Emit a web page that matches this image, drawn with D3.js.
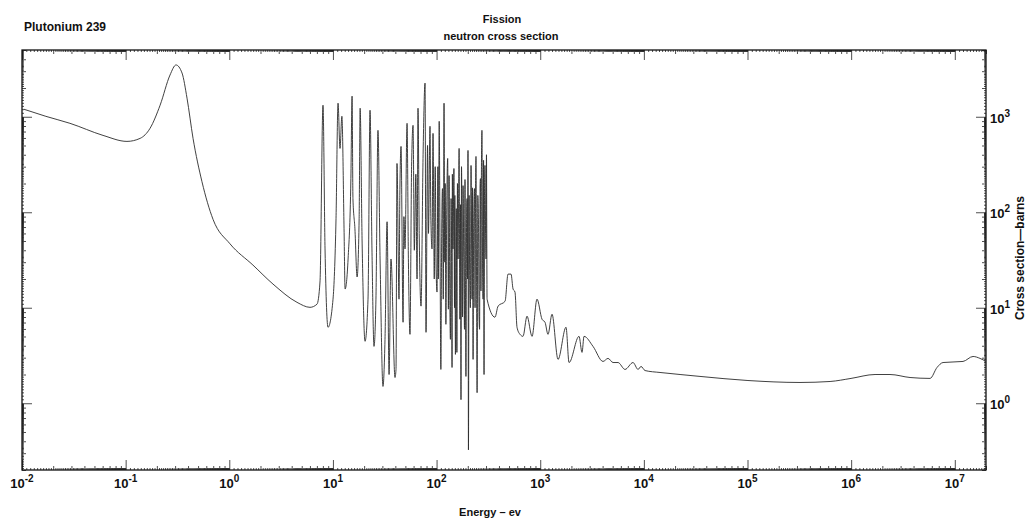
<!DOCTYPE html>
<html>
<head>
<meta charset="utf-8">
<script src="https://cdnjs.cloudflare.com/ajax/libs/d3/7.8.5/d3.min.js"></script>
<style>
body { margin: 0; background: #fff; }
text { font-family: "Liberation Sans", Arial, sans-serif; fill: #111; }
</style>
</head>
<body>
<div id="chart"></div>
<script>
// energy (eV) and fission cross section (barns)
var energy = [0.0104, 0.0170, 0.0290, 0.0605, 0.103, 0.138, 0.172, 0.215, 0.268, 0.306, 0.350, 0.391, 0.447, 0.545, 0.697,
    1.016, 1.69, 2.64, 4.50, 6.01, 7.02, 7.50, 8.02, 8.39, 8.97, 10.02, 10.71, 11.2, 11.7, 12.2, 12.8, 13.1,
    14.0, 14.9, 15.3, 15.6, 16.3, 17.1, 17.9, 18.3, 19.1, 20.4, 21.8, 22.8, 23.8, 24.9, 26.0, 27.2, 28.5,
    30.4, 31.8, 33.3, 34.8, 36.3, 39.7, 40.6, 41.5, 43.4, 44.2, 45.4, 47.5, 48.4, 49.6, 51.9, 53.5, 55.4,
    57.4, 59.3, 61.0, 63.1, 64.8, 66.2, 68.0, 70.8, 74.1, 77.4, 79.1, 81.8, 83.5, 86.4, 88.0, 90.4, 92.4,
    95.0, 97.0, 99.0, 101, 103, 104, 106, 108, 110, 112, 114, 116, 118, 120, 121, 123, 125, 128, 130, 132,
    134, 136, 138, 140, 141, 142, 144, 147, 149, 150, 152, 155, 157, 159, 161, 165, 167, 168, 170, 172,
    174, 176, 178, 180, 183, 186, 188, 190, 192, 195, 197, 199, 201, 203, 206, 208, 212, 215, 218, 220,
    222, 225, 228, 232, 235, 238, 240, 243, 246, 250, 254, 257, 260, 263, 265, 268, 271, 274, 278, 281,
    284, 287, 290, 293, 297, 300, 303, 305, 307,
    366, 392, 458, 489, 523, 547, 571, 597,
    638, 682, 746, 834, 931, 1041, 1112, 1189, 1300, 1485, 1774, 1897, 2368, 2531, 2646, 3232, 4036, 4510,
    5040, 5632, 6580, 7860, 8785, 9390, 10260, 14320, 22340, 34800, 101000, 321000, 626000, 997000,
    1700000, 2370000, 3700000, 5770000, 6740000, 7700000, 12000000, 15000000, 17500000, 20000000];

var crossSection = [1200, 1010, 854, 638, 552, 594, 757, 1321, 2735, 3487, 2870, 1566, 594, 209, 84.2,
    46.7, 28.0, 17.7, 11.4, 10.1, 10.9, 18.6, 1321, 41.3, 6.25, 12.3, 85.5, 1387, 466, 1012, 67.1, 15.7,
    32.4, 225, 1643, 139, 67.1, 21.0, 85.5, 1228, 52.6, 4.45, 12.3, 1170, 41.3, 3.94, 12.3, 721, 32.4,
    1.50, 4.67, 79.5, 2.00, 32.4, 1.86, 2.26, 324, 12.3, 150, 489, 7.05, 90, 41.3, 854, 30, 5.27,
    300, 813, 40, 250, 20.0, 1228, 60, 10.4, 400, 2251, 5.53, 500, 60, 794, 90, 41.3, 670,
    20, 300, 25, 14.6, 300, 20, 896, 40, 2.26, 60, 177, 12.3, 1387, 30, 200, 6.71, 80, 366, 9.66, 242,
    15, 4.67, 139, 20, 2.37, 250, 41.3, 287, 10, 150, 3.25, 109, 3.41, 200, 32.4, 466, 20, 7.58, 120, 1.09,
    300, 67.1, 8, 190, 30, 5.95, 220, 15, 1.91, 100, 139, 20, 444, 0.325, 150, 32.4, 10, 309, 40, 12.3,
    180, 2.88, 80, 177, 10, 200, 384, 20, 1.29, 150, 67.1, 8, 5.95, 200, 225, 15, 300, 721, 25, 12.3,
    350, 2.00, 150, 309, 60, 32.4, 400, 60, 12.3,
    7.96, 10.4, 11.7, 22.5, 22.5, 15.7, 14.6, 6.25,
    5.27, 5.02, 8.15, 5.02, 12.3, 7.58, 7.05, 5.27, 8.55, 2.88, 6.25, 2.67, 5.02, 3.41, 5.02, 3.94, 2.74, 2.95,
    2.67, 2.67, 2.26, 2.67, 2.26, 2.43, 2.20, 2.10, 2.00, 1.91, 1.73, 1.65, 1.69, 1.82,
    2.00, 2.00, 1.86, 1.82, 2.37, 2.67, 2.74, 3.09, 2.95, 2.74];

var xDecades = [-2, -1, 0, 1, 2, 3, 4, 5, 6, 7];
var yDecades = [0, 1, 2, 3];

var svgWidth = 1028;
var svgHeight = 521;
var margin = { top: 50, right: 42, bottom: 51, left: 22 };
var width = svgWidth - margin.left - margin.right;
var height = svgHeight - margin.top - margin.bottom;

var svg = d3.select("#chart").append("svg").attr("width", svgWidth).attr("height", svgHeight);
var chartGroup = svg.append("g").attr("transform", `translate(${margin.left}, ${margin.top})`);

var xScale = d3.scaleLog().domain([0.01, 2e7]).range([0, width]);
var yScale = d3.scaleLog().domain([0.2, 5000]).range([height, 0]);

// fine log ticks: decades, integer multiples, tenths
function ticksFor(scale, decades) {
    var d = scale.domain();
    var major = [], mid = [], fine = [];
    decades.concat([decades[0] - 1]).forEach(function(k) {
        for (var i = 10; i < 100; i++) {
            var v = (i / 10) * Math.pow(10, k);
            if (v < d[0] * 0.9999 || v > d[1] * 1.0001) continue;
            if (i === 10) major.push(v);
            else if (i % 10 === 0) mid.push(v);
            else fine.push(v);
        }
    });
    return { major: major, mid: mid, fine: fine };
}

var xt = ticksFor(xScale, xDecades);
var yt = ticksFor(yScale, yDecades);

function drawAxis(maker, scale, vals, size, transform) {
    var g = chartGroup.append("g").attr("transform", transform)
        .call(maker(scale).tickValues(vals).tickSize(size).tickFormat(""));
    g.select(".domain").remove();
    g.selectAll("line").attr("stroke", "#222").attr("stroke-width", 0.8);
    return g;
}

[["major", 10], ["mid", 4], ["fine", 2]].forEach(function(p) {
    drawAxis(d3.axisBottom, xScale, xt[p[0]], -p[1], `translate(0, ${height})`);
    drawAxis(d3.axisTop, xScale, xt[p[0]], -p[1], "translate(0, 0)");
    drawAxis(d3.axisLeft, yScale, yt[p[0]], -p[1], "translate(0, 0)");
    drawAxis(d3.axisRight, yScale, yt[p[0]], -p[1], `translate(${width}, 0)`);
});

chartGroup.append("rect").attr("width", width).attr("height", height)
    .attr("fill", "none").attr("stroke", "#111").attr("stroke-width", 1.3);

chartGroup.append("clipPath").attr("id", "plotClip").append("rect")
    .attr("width", width).attr("height", height);

var points = energy.map(function(e, i) { return { e: e, s: crossSection[i] }; });
var line = d3.line().x(d => xScale(d.e)).y(d => yScale(d.s)).curve(d3.curveMonotoneX);

chartGroup.append("path").datum(points)
    .attr("clip-path", "url(#plotClip)")
    .attr("d", line)
    .attr("fill", "none")
    .attr("stroke", "#2b2b2b")
    .attr("stroke-width", 0.9)
    .attr("stroke-linejoin", "round");

// decade labels with superscripts
xDecades.forEach(function(k) {
    var t = chartGroup.append("text")
        .attr("x", xScale(Math.pow(10, k)))
        .attr("y", height + 18)
        .attr("text-anchor", "middle")
        .style("font-size", "13px").style("font-weight", "bold");
    t.append("tspan").text("10");
    t.append("tspan").attr("dy", -6).style("font-size", "10px").text(k);
});

yDecades.forEach(function(k) {
    var t = chartGroup.append("text")
        .attr("x", width + 4)
        .attr("y", yScale(Math.pow(10, k)) + 6)
        .style("font-size", "13px").style("font-weight", "bold");
    t.append("tspan").text("10");
    t.append("tspan").attr("dy", -6).style("font-size", "10px").text(k);
});

svg.append("text").attr("x", 24).attr("y", 31)
    .style("font-size", "12px").style("font-weight", "bold").text("Plutonium 239");
svg.append("text").attr("x", 502).attr("y", 23).attr("text-anchor", "middle")
    .style("font-size", "11px").style("font-weight", "bold").text("Fission");
svg.append("text").attr("x", 501).attr("y", 40).attr("text-anchor", "middle")
    .style("font-size", "11px").style("font-weight", "bold").text("neutron cross section");
svg.append("text").attr("x", 490).attr("y", 516).attr("text-anchor", "middle")
    .style("font-size", "11px").style("font-weight", "bold").text("Energy \u2013 ev");
svg.append("text").attr("transform", "translate(1024, 258) rotate(-90)").attr("text-anchor", "middle")
    .style("font-size", "12px").style("font-weight", "bold").text("Cross section\u2014barns");
</script>
</body>
</html>
